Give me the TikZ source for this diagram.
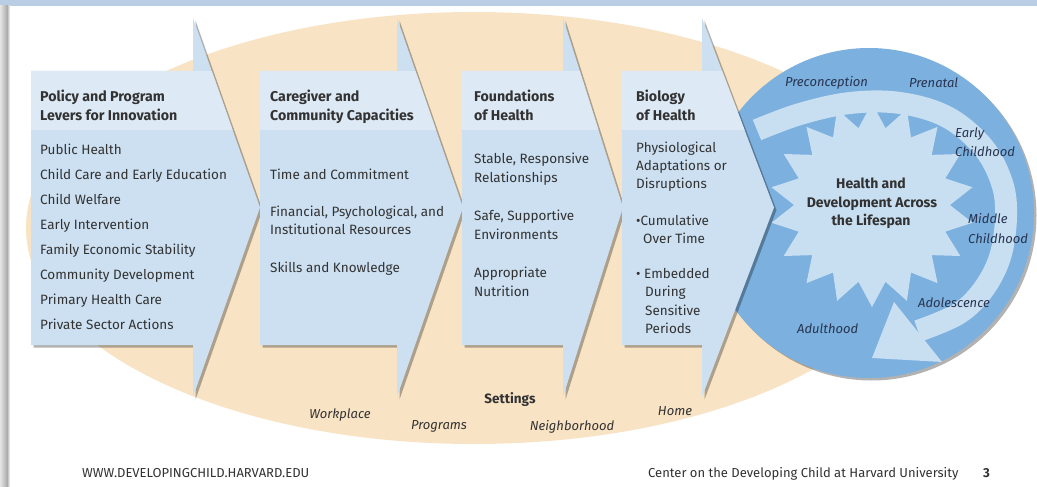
\documentclass[tikz,border=0pt]{standalone}
\usepackage{fontspec}
\setmainfont{Fira Sans}
\usetikzlibrary{shadows}

\definecolor{pageblue}{RGB}{185,205,229}
\definecolor{beige}{RGB}{248,228,197}
\definecolor{boxbody}{RGB}{204,224,241}
\definecolor{boxhead}{RGB}{221,234,246}
\definecolor{ringblue}{RGB}{124,176,222}
\definecolor{paleblue}{RGB}{200,222,241}
\definecolor{ink}{RGB}{50,50,50}
\definecolor{navy}{RGB}{40,52,80}

\begin{document}
\begin{tikzpicture}[x=1pt,y=-1pt,
  item/.style={anchor=base west, inner sep=0pt, text=ink, font=\fontsize{13.5}{16}\selectfont},
  headtxt/.style={item, font=\fontsize{14.2}{16}\selectfont\bfseries},
  stage/.style={anchor=base west, inner sep=0pt, text=navy, font=\fontsize{13}{15}\selectfont\itshape},
  setting/.style={anchor=base, inner sep=0pt, text=ink, font=\fontsize{13}{15}\selectfont\itshape},
  core/.style={anchor=base, inner sep=0pt, text=ink, font=\fontsize{14}{16}\selectfont\bfseries},
  foot/.style={anchor=base west, inner sep=0pt, text=ink, font=\fontsize{13}{15}\selectfont},
  sh/.style={drop shadow={shadow xshift=2.5pt, shadow yshift=-2.5pt, opacity=0.3, fill=black}}
]
\useasboundingbox (0,0) rectangle (1037,487);
\fill[white] (0,0) rectangle (1037,487);

% page frame: blue band on top, grey edge on the left
\fill[pageblue] (0,0) rectangle (1037,6);
\shade[left color=gray!20, right color=gray!65] (0,6) rectangle (7,487);
\shade[left color=gray!65, right color=white] (7,6) rectangle (10,487);

% settings ellipse
\fill[beige] (474,228) ellipse [x radius=448, y radius=216];

% lifespan circle
\fill[ringblue, sh] (869,213) circle [radius=165];

% lifespan course: curved band with arrowhead
\draw[paleblue, line width=22pt] plot[smooth, tension=0.6] coordinates
  {(757,130) (800,114) (850,103) (900,103) (947,117) (983,147)
   (1002,183) (1006,217) (1000,257) (983,290) (958,314) (918,331)};
\fill[paleblue] (894,302) -- (942,362) -- (872,358) -- cycle;

% starburst
\fill[paleblue] (872,205) +(90:102)
  \foreach \k in {1,...,35} { -- +({90+\k*10}:{ifthenelse(isodd(\k),78,102)}) } -- cycle;

% the four block arrows
\foreach \L/\R/\T in {31/193/260, 260/397/463, 462/563/623, 622/702/774} {
  \fill[boxbody, sh] (\L,71) -- (\R,71) -- (\R,18) -- (\T,207.5) -- (\R,397)
    -- (\R,345) -- (\L,345) -- cycle;
  \begin{scope}
    \clip (\L,71) -- (\R,71) -- (\R,18) -- (\T,207.5) -- (\R,397)
      -- (\R,345) -- (\L,345) -- cycle;
    \fill[boxhead] (\L,71) rectangle (\T,130);
  \end{scope}
}

% column 1
\node[headtxt] (p1) at (40,102) {Policy and Program};
\node[headtxt] (p2) at (40,121) {Levers for Innovation};
\node[item] (pa) at (40,154) {Public Health};
\node[item] (pb) at (40,179) {Child Care and Early Education};
\node[item] (pc) at (40,204) {Child Welfare};
\node[item] (pd) at (40,229) {Early Intervention};
\node[item] (pe) at (40,254) {Family Economic Stability};
\node[item] (pf) at (40,279) {Community Development};
\node[item] (pg) at (40,304) {Primary Health Care};
\node[item] (ph) at (40,329) {Private Sector Actions};

% column 2
\node[headtxt] (c1) at (270,102) {Caregiver and};
\node[headtxt] (c2) at (270,121) {Community Capacities};
\node[item] (ca) at (270,179) {Time and Commitment};
\node[item] (cb) at (270,216) {Financial, Psychological, and};
\node[item] (cc) at (270,234) {Institutional Resources};
\node[item] (cd) at (270,272) {Skills and Knowledge};

% column 3
\node[headtxt] (f1) at (474,102) {Foundations};
\node[headtxt] (f2) at (474,121) {of Health};
\node[item] (fa) at (474,163) {Stable, Responsive};
\node[item] (fb) at (474,182) {Relationships};
\node[item] (fc) at (474,220) {Safe, Supportive};
\node[item] (fd) at (474,239) {Environments};
\node[item] (fe) at (474,277) {Appropriate};
\node[item] (ff) at (474,296) {Nutrition};

% column 4
\node[headtxt] (g1) at (636,102) {Biology};
\node[headtxt] (g2) at (636,121) {of Health};
\node[item] (ga) at (636,152) {Physiological};
\node[item] (gb) at (636,170) {Adaptations or};
\node[item] (gc) at (636,188) {Disruptions};
\node[item] (gd) at (636,225) {•Cumulative};
\node[item] (ge) at (643,243) {Over Time};
\node[item] (gf) at (636,278) {• Embedded};
\node[item] (gg) at (645,296) {During};
\node[item] (gh) at (645,315) {Sensitive};
\node[item] (gi) at (645,333) {Periods};

% centre of the circle
\node[core] (h1) at (871,188) {Health and};
\node[core] (h2) at (872,207) {Development Across};
\node[core] (h3) at (871,225) {the Lifespan};

% life stages
\node[stage] (s1) at (785,87) {Preconception};
\node[stage] (s2) at (909,88) {Prenatal};
\node[stage] (s3) at (955,137) {Early};
\node[stage] (s4) at (955,157) {Childhood};
\node[stage] (s5) at (968,223) {Middle};
\node[stage] (s6) at (968,243) {Childhood};
\node[stage] (s7) at (918,307) {Adolescence};
\node[stage] (s8) at (797,333) {Adulthood};

% settings
\node[anchor=base, inner sep=0pt, text=ink, font=\fontsize{13.5}{16}\selectfont\bfseries] (st) at (510,403) {Settings};
\node[setting] (w1) at (340,418) {Workplace};
\node[setting] (w2) at (439,429) {Programs};
\node[setting] (w3) at (572,430) {Neighborhood};
\node[setting] (w4) at (675,415) {Home};

% footer
\node[foot] (u1) at (82,477) {WWW.DEVELOPINGCHILD.HARVARD.EDU};
\node[foot] (u2) at (648,477) {Center on the Developing Child at Harvard University};
\node[foot, font=\fontsize{13}{15}\selectfont\bfseries] (u3) at (983,477) {3};
\end{tikzpicture}
\end{document}
